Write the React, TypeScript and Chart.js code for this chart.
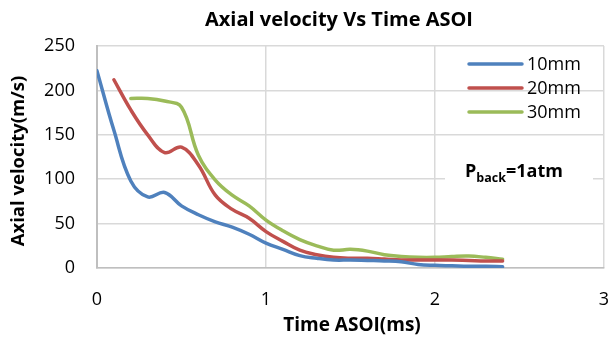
import { useEffect, useRef } from "react";
import { Chart, registerables } from "chart.js";

Chart.register(...registerables);

const chartTitle = "Axial velocity Vs Time ASOI";
const xTitle = "Time ASOI(ms)";
const yTitle = "Axial velocity(m/s)";
const seriesNames = ["10mm", "20mm", "30mm"];
const seriesColors = ["#4F81BD", "#C0504D", "#9BBB59"];

const time10 = [0, 0.1, 0.2, 0.3, 0.4, 0.5, 0.6, 0.7, 0.8, 0.9, 1.0, 1.1, 1.2, 1.3, 1.4, 1.5, 1.6, 1.7, 1.8, 1.9, 2.0, 2.1, 2.2, 2.3, 2.4];
const vel10 = [222, 155, 98, 80, 85, 70, 60, 52, 46, 38, 28, 21, 14, 11, 9, 9, 8.5, 8, 7, 4, 3, 2.5, 2, 2, 1.5];

const time20 = [0.1, 0.2, 0.3, 0.4, 0.5, 0.6, 0.7, 0.8, 0.9, 1.0, 1.1, 1.2, 1.3, 1.4, 1.5, 1.6, 1.7, 1.8, 1.9, 2.0, 2.1, 2.2, 2.3, 2.4];
const vel20 = [212, 178, 150, 130, 136, 116, 82, 66, 56, 41, 30, 20, 15, 12, 11, 11, 10, 9, 9, 9, 9, 8.5, 8, 8];

const time30 = [0.2, 0.3, 0.4, 0.5, 0.6, 0.7, 0.8, 0.9, 1.0, 1.1, 1.2, 1.3, 1.4, 1.5, 1.6, 1.7, 1.8, 1.9, 2.0, 2.1, 2.2, 2.3, 2.4];
const vel30 = [191, 191, 188, 181, 127, 99, 82, 70, 54, 42, 32, 25, 20, 21, 19, 15, 13, 12, 12, 13, 13.5, 12, 10];

const xTickValues = [0, 1, 2, 3];
const yTickValues = [0, 50, 100, 150, 200, 250];

const annotationMain = "P";
const annotationSub = "back";
const annotationRest = "=1atm";

const FONT = "'Open Sans', sans-serif";

const overlayPlugin = {
  id: "overlay",
  afterDraw(chart: any) {
    const ctx = chart.ctx as CanvasRenderingContext2D;
    const area = chart.chartArea;
    ctx.save();
    // Title
    ctx.fillStyle = "#000";
    ctx.font = `bold 20px ${FONT}`;
    ctx.textAlign = "center";
    ctx.textBaseline = "middle";
    ctx.fillText(chartTitle, 339, 20);
    // X title
    ctx.font = `bold 19px ${FONT}`;
    ctx.fillText(xTitle, 352, 326);
    // Y title
    ctx.save();
    ctx.translate(19, 161);
    ctx.rotate(-Math.PI / 2);
    ctx.font = `bold 18.5px ${FONT}`;
    ctx.fillText(yTitle, 0, 0);
    ctx.restore();

    // Legend
    ctx.font = `18px ${FONT}`;
    ctx.textAlign = "left";
    const legendYs = [64, 88, 112];
    chart.data.datasets.forEach((ds: any, i: number) => {
      const y = legendYs[i];
      ctx.strokeStyle = ds.borderColor;
      ctx.lineWidth = 3.5;
      ctx.lineCap = "round";
      ctx.beginPath();
      ctx.moveTo(469, y);
      ctx.lineTo(522, y);
      ctx.stroke();
      ctx.fillStyle = "#000";
      ctx.fillText(ds.label, 527, y + 1);
    });

    // Annotation box
    ctx.fillStyle = "#fff";
    ctx.fillRect(445, 155, 148, 40);
    ctx.fillStyle = "#000";
    ctx.textBaseline = "alphabetic";
    ctx.font = `bold 18px ${FONT}`;
    let x = 465;
    const base = 177;
    ctx.fillText(annotationMain, x, base);
    x += ctx.measureText(annotationMain).width;
    ctx.font = `bold 12.5px ${FONT}`;
    ctx.fillText(annotationSub, x, base + 5);
    x += ctx.measureText(annotationSub).width;
    ctx.font = `bold 18px ${FONT}`;
    ctx.fillText(annotationRest, x, base);
    ctx.restore();
  },
};

export default function App() {
  const ref = useRef<HTMLCanvasElement | null>(null);
  useEffect(() => {
    if (!ref.current) return;
    const mk = (t: number[], v: number[]) => t.map((x, i) => ({ x, y: v[i] }));
    const series = [mk(time10, vel10), mk(time20, vel20), mk(time30, vel30)];
    const chart = new Chart(ref.current, {
      type: "scatter",
      data: {
        datasets: series.map((d, i) => ({
          label: seriesNames[i],
          data: d,
          showLine: true,
          borderColor: seriesColors[i],
          backgroundColor: seriesColors[i],
          borderWidth: 3.5,
          pointRadius: 0,
          tension: 0.4,
          borderCapStyle: "round",
          borderJoinStyle: "round",
        })),
      },
      options: {
        animation: false,
        responsive: false,
        maintainAspectRatio: false,
        layout: { padding: { top: 46, right: 6, left: 0, bottom: 0 } },
        plugins: {
          legend: { display: false },
          title: { display: false },
          tooltip: { enabled: false },
        },
        scales: {
          x: {
            type: "linear",
            min: 0,
            max: 3,
            afterFit: (s: any) => {
              s.height = 72;
              s.paddingLeft = 0;
              s.paddingRight = 0;
            },
            afterBuildTicks: (s: any) => {
              s.ticks = xTickValues.map((value) => ({ value }));
            },
            ticks: {
              font: { family: FONT, size: 18 },
              color: "#000",
              padding: 21,
              maxRotation: 0,
            },
            grid: { color: "#D9D9D9", lineWidth: 1.5, drawTicks: false },
            border: { display: true, color: "#BFBFBF", width: 1.5 },
          },
          y: {
            type: "linear",
            min: 0,
            max: 250,
            afterFit: (s: any) => {
              s.width = 97;
              s.paddingTop = 0;
              s.paddingBottom = 0;
            },
            afterBuildTicks: (s: any) => {
              s.ticks = yTickValues.map((value) => ({ value }));
            },
            ticks: {
              font: { family: FONT, size: 18 },
              color: "#000",
              padding: 22,
            },
            grid: { color: "#D9D9D9", lineWidth: 1.5, drawTicks: false },
            border: { display: true, color: "#BFBFBF", width: 2 },
          },
        },
      },
      plugins: [overlayPlugin],
    });
    return () => chart.destroy();
  }, []);
  return (
    <div style={{ position: "fixed", left: 0, top: 0, width: 610, height: 340, background: "#fff" }}>
      <canvas ref={ref} width={610} height={340} style={{ width: 610, height: 340, display: "block" }} />
    </div>
  );
}
